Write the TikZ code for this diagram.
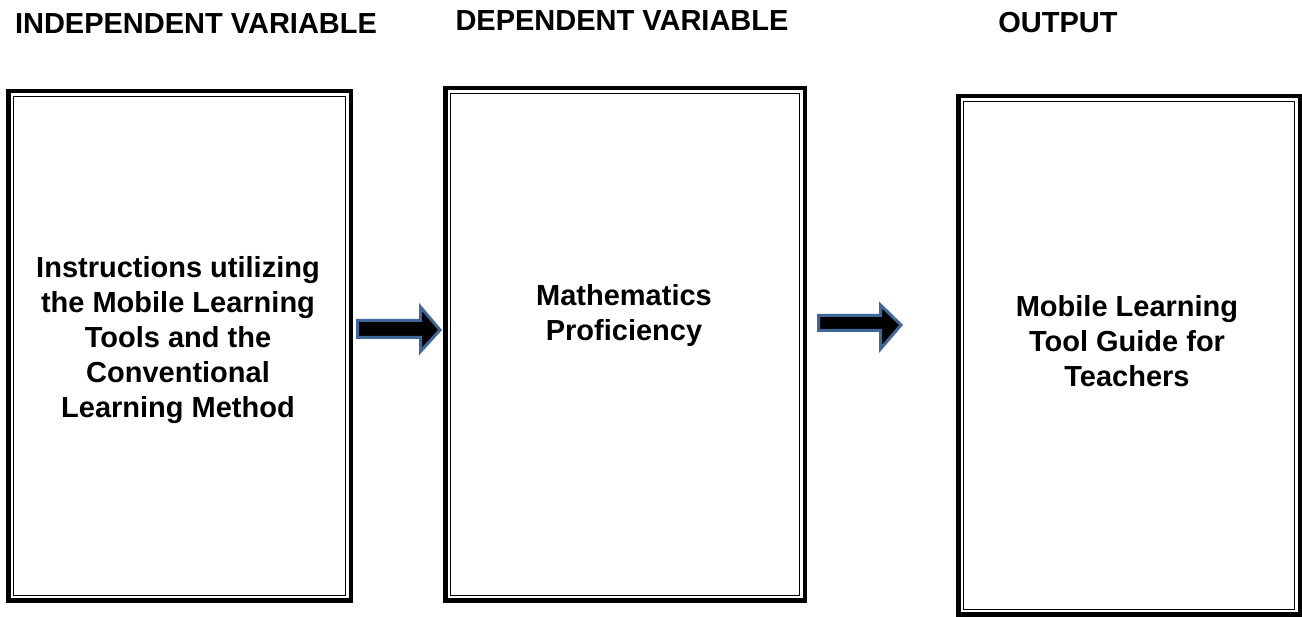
\documentclass[tikz,border=0pt]{standalone}
\usepackage{fontspec}
\setmainfont{Liberation Sans}
\usetikzlibrary{calc}
\begin{document}
\begin{tikzpicture}[x=1pt,y=1pt,
  thickline/.style={line width=4.5pt,draw=black},
  thinline/.style={line width=1.3pt,draw=black},
  boxarea/.style={inner sep=0pt,outer sep=0pt,draw=none},
  title/.style={font=\fontsize{29}{35}\selectfont\bfseries,anchor=base},
  boxtext/.style={font=\fontsize{29}{35}\selectfont\bfseries,align=center},
  blockarrow/.style={fill=black,draw=arrowblue,line width=3pt,line join=miter}]
\definecolor{arrowblue}{HTML}{41679A}
\useasboundingbox (0,0) rectangle (1302,617);
% box areas
\node[boxarea,minimum width=347pt,minimum height=514pt] (b1) at (179.5,271) {};
\node[boxarea,minimum width=364pt,minimum height=517pt] (b2) at (625,272.5) {};
\node[boxarea,minimum width=346pt,minimum height=523pt] (b3) at (1129,261.5) {};
% double frames
\foreach \b in {b1,b2,b3}{
  \draw[thickline] ($(\b.north west)+(2.25,-2.25)$) rectangle ($(\b.south east)+(-2.25,2.25)$);
  \draw[thinline] ($(\b.north west)+(7.2,-7.2)$) rectangle ($(\b.south east)+(-7.2,7.2)$);
}
% titles
\node[title] (t1) at (196,583) {INDEPENDENT VARIABLE};
\node[title] (t2) at (622,586) {DEPENDENT VARIABLE};
\node[title] (t3) at (1058,584) {OUTPUT};
% box texts
\node[boxtext] (x1) at (178,277) {Instructions utilizing\\the Mobile Learning\\Tools and the\\Conventional\\Learning Method};
\node[boxtext] (x2) at (624,301) {Mathematics\\Proficiency};
\node[boxtext] (x3) at (1127,276) {Mobile Learning\\Tool Guide for\\Teachers};
% block arrows
\draw[blockarrow] (357.5,296.5) -- (420.5,296.5) -- (420.5,310) -- (440,287) -- (420.5,265.5) -- (420.5,279.5) -- (357.5,279.5) -- cycle;
\draw[blockarrow] (818.5,301.5) -- (880.5,301.5) -- (880.5,312) -- (901,292) -- (880.5,268) -- (880.5,286.5) -- (818.5,286.5) -- cycle;
\end{tikzpicture}
\end{document}
